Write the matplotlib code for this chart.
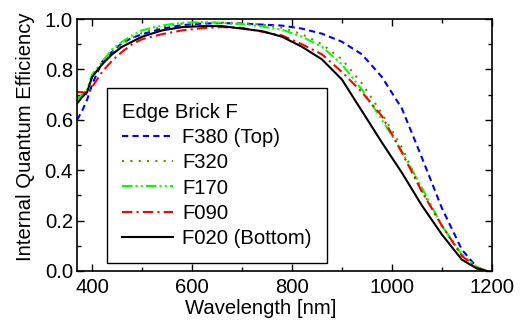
import matplotlib
matplotlib.use("Agg")
import matplotlib.pyplot as plt
from matplotlib.ticker import MultipleLocator

plt.rcParams["font.family"] = ["Liberation Sans", "DejaVu Sans"]

wavelength = [370, 380, 390, 400, 420, 440, 460, 480, 500, 540, 580, 620, 660, 700,
              740, 780, 820, 860, 900, 940, 980, 1020, 1060, 1100, 1140, 1170, 1190]

f380 = [0.60, 0.635, 0.68, 0.74, 0.83, 0.87, 0.905, 0.925, 0.94, 0.962, 0.976, 0.982, 0.984, 0.982,
        0.978, 0.974, 0.962, 0.942, 0.91, 0.86, 0.77, 0.645, 0.45, 0.25, 0.085, 0.015, 0.0]
f320 = [0.69, 0.70, 0.72, 0.77, 0.82, 0.865, 0.90, 0.925, 0.945, 0.97, 0.982, 0.986, 0.986, 0.984,
        0.978, 0.966, 0.94, 0.90, 0.84, 0.745, 0.625, 0.49, 0.32, 0.18, 0.065, 0.015, 0.0]
f170 = [0.68, 0.70, 0.72, 0.78, 0.83, 0.88, 0.91, 0.935, 0.955, 0.975, 0.985, 0.988, 0.985, 0.98,
        0.97, 0.958, 0.93, 0.89, 0.82, 0.72, 0.60, 0.475, 0.33, 0.18, 0.065, 0.015, 0.0]
f090 = [0.71, 0.71, 0.70, 0.73, 0.79, 0.835, 0.87, 0.90, 0.92, 0.94, 0.955, 0.964, 0.968, 0.965,
        0.95, 0.935, 0.90, 0.86, 0.79, 0.71, 0.615, 0.47, 0.315, 0.18, 0.06, 0.012, 0.0]
f020 = [0.665, 0.69, 0.71, 0.77, 0.82, 0.86, 0.89, 0.91, 0.93, 0.955, 0.968, 0.972, 0.972, 0.962,
        0.952, 0.93, 0.89, 0.84, 0.76, 0.635, 0.51, 0.39, 0.26, 0.145, 0.045, 0.01, 0.0]

labels = ["F380 (Top)", "F320", "F170", "F090", "F020 (Bottom)"]

FS = 14.6


def main() -> None:
    fig = plt.figure(figsize=(5.21, 3.23), dpi=100)
    ax = fig.add_axes([0.148, 0.161, 0.796, 0.78])

    lw = 1.5
    ax.plot(wavelength, f380, color="#0000ff", lw=lw, dashes=(3, 2), label=labels[0])
    ax.plot(wavelength, f320, color="#808000", lw=lw, dashes=(1, 3), label=labels[1])
    ax.plot(wavelength, f170, color="#00ff00", lw=lw, dashes=(5, 1.5, 1, 1.5, 1, 1.5), label=labels[2])
    ax.plot(wavelength, f090, color="#ff0000", lw=lw, dashes=(5, 2, 1, 2), label=labels[3])
    ax.plot(wavelength, f020, color="black", lw=lw, label=labels[4])

    ax.set_xlim(370, 1200)
    ax.set_ylim(0, 1.0)
    ax.xaxis.set_major_locator(MultipleLocator(200))
    ax.xaxis.set_minor_locator(MultipleLocator(100))
    ax.yaxis.set_major_locator(MultipleLocator(0.2))
    ax.yaxis.set_minor_locator(MultipleLocator(0.1))
    ax.tick_params(which="both", direction="in", top=True, right=True, labelsize=FS, width=1)
    ax.tick_params(which="major", length=5)
    ax.tick_params(which="minor", length=3)
    ax.tick_params(axis="x", pad=5)
    ax.tick_params(axis="y", pad=3)
    for spine in ax.spines.values():
        spine.set_linewidth(1.2)

    ax.set_xlabel("Wavelength [nm]", fontsize=FS, va="center")
    ax.xaxis.set_label_coords(0.443, -0.147)
    ax.set_ylabel("Internal Quantum Efficiency", fontsize=FS, va="center")
    ax.yaxis.set_label_coords(-0.125, 0.532)

    leg = ax.legend(title="Edge Brick F", loc="lower left", bbox_to_anchor=(0.072, 0.032),
                    borderaxespad=0, fancybox=False, edgecolor="black", framealpha=1,
                    fontsize=FS, title_fontsize=FS, handlelength=2.5, handletextpad=0.45,
                    alignment="left", labelspacing=0.3, borderpad=0.75)
    leg.get_frame().set_linewidth(1.0)

    fig.savefig("out.png", dpi=100)
    plt.close(fig)


if __name__ == "__main__":
    main()
